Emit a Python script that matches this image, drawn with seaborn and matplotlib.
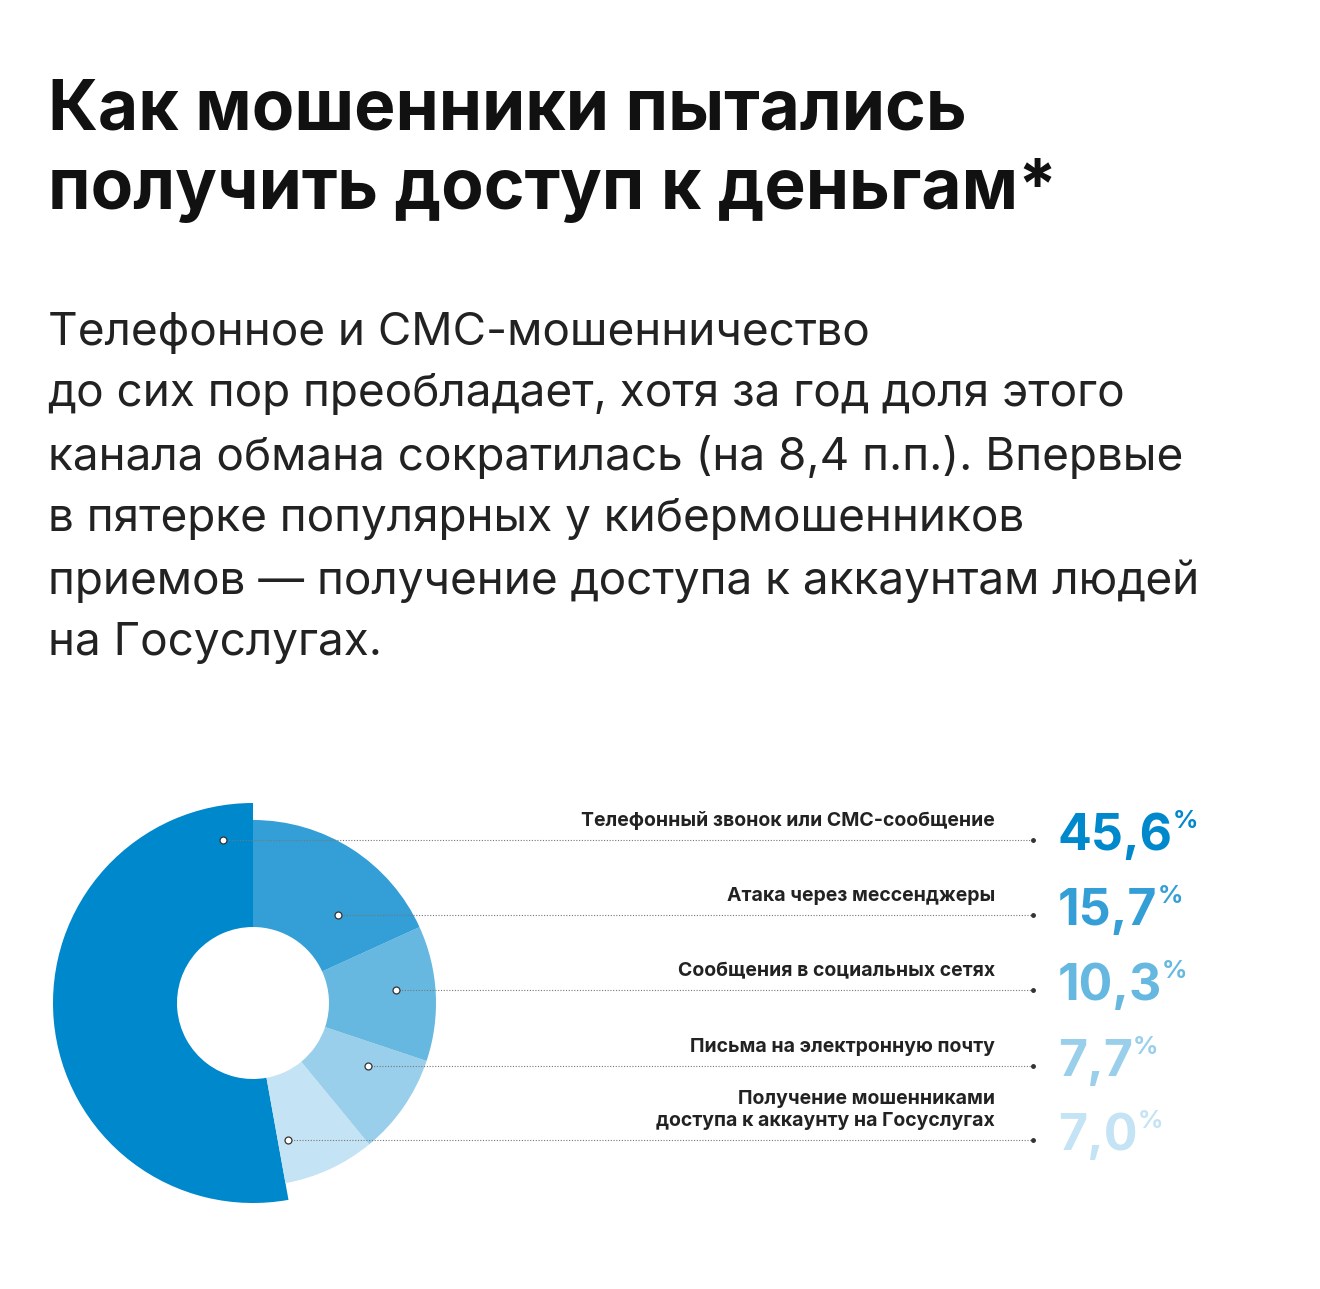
import numpy as np
import matplotlib.pyplot as plt
import seaborn as sns

# данные
categories = [
    "Телефонный звонок или СМС-сообщение",
    "Атака через мессенджеры",
    "Сообщения в социальных сетях",
    "Письма на электронную почту",
    "Получение мошенниками\nдоступа к аккаунту на Госуслугах",
]
values = [45.6, 15.7, 10.3, 7.7, 7.0]
value_labels = ["45,6", "15,7", "10,3", "7,7", "7,0"]
colors = ["#0088CC", "#339FD6", "#66B8E0", "#99CFEB", "#C4E3F4"]

title = "Как мошенники пытались\nполучить доступ к деньгам*"
body = ("Телефонное и СМС-мошенничество\n"
        "до сих пор преобладает, хотя за год доля этого\n"
        "канала обмана сократилась (на 8,4 п.п.). Впервые\n"
        "в пятерке популярных у кибермошенников\n"
        "приемов — получение доступа к аккаунтам людей\n"
        "на Госуслугах.")

sns.set_theme(style="white", font="Inter")
W, H = 1320, 1289
fig = plt.figure(figsize=(W / 100, H / 100), dpi=100)
ax = fig.add_axes([0, 0, 1, 1])
ax.set_axis_off()

cx, cy = 253, 1003
r_big, r_small, r_hole = 200, 183, 76

# ось y перевёрнута, поэтому направление обхода тоже
pie_vals = [values[0]] + values[1:][::-1]
pie_cols = [colors[0]] + colors[1:][::-1]
wedges, _ = ax.pie(pie_vals, colors=pie_cols, startangle=-90, counterclock=False,
                   center=(cx, cy), radius=r_small,
                   wedgeprops=dict(width=r_small - r_hole, linewidth=0))
# большой сектор выступает
wedges[0].set_radius(r_big)
wedges[0].set_width(r_big - r_hole)

ax.set_xlim(0, W)
ax.set_ylim(H, 0)
ax.set_aspect("equal")

fig.text(48 / W, 1 - 78 / H, title, fontsize=50, fontweight="bold", color="#111111",
         va="top", ha="left", linespacing=1.3)
fig.text(48 / W, 1 - 312 / H, body, fontsize=33, color="#222222",
         va="top", ha="left", linespacing=1.57)

rows = [840, 915, 990, 1066, 1140]
anchors = [223, 338, 396, 368, 288]
for cat, lab, col, y, x0 in zip(categories, value_labels, colors, rows, anchors):
    ax.plot([x0, 1033], [y, y], ls=(0, (1, 1.5)), color="#777777", lw=0.8)
    ax.plot(x0, y, "o", ms=5, mfc="white", mec="#333333", mew=0.9)
    ax.plot(1033, y, "o", ms=2.5, color="#333333")
    ax.text(995, y - 10, cat, ha="right", va="bottom", fontsize=14, fontweight="bold",
            color="#222222", linespacing=1.25)
    t = ax.text(1058, y + 10, lab, ha="left", va="baseline", fontsize=36,
                fontweight="bold", color=col)
    ax.annotate("%", xy=(1, 1), xycoords=t, xytext=(0, 2), textcoords="offset points",
                ha="left", va="top", fontsize=18, fontweight="bold", color=col)

fig.savefig("out.png", dpi=100, facecolor="white")
